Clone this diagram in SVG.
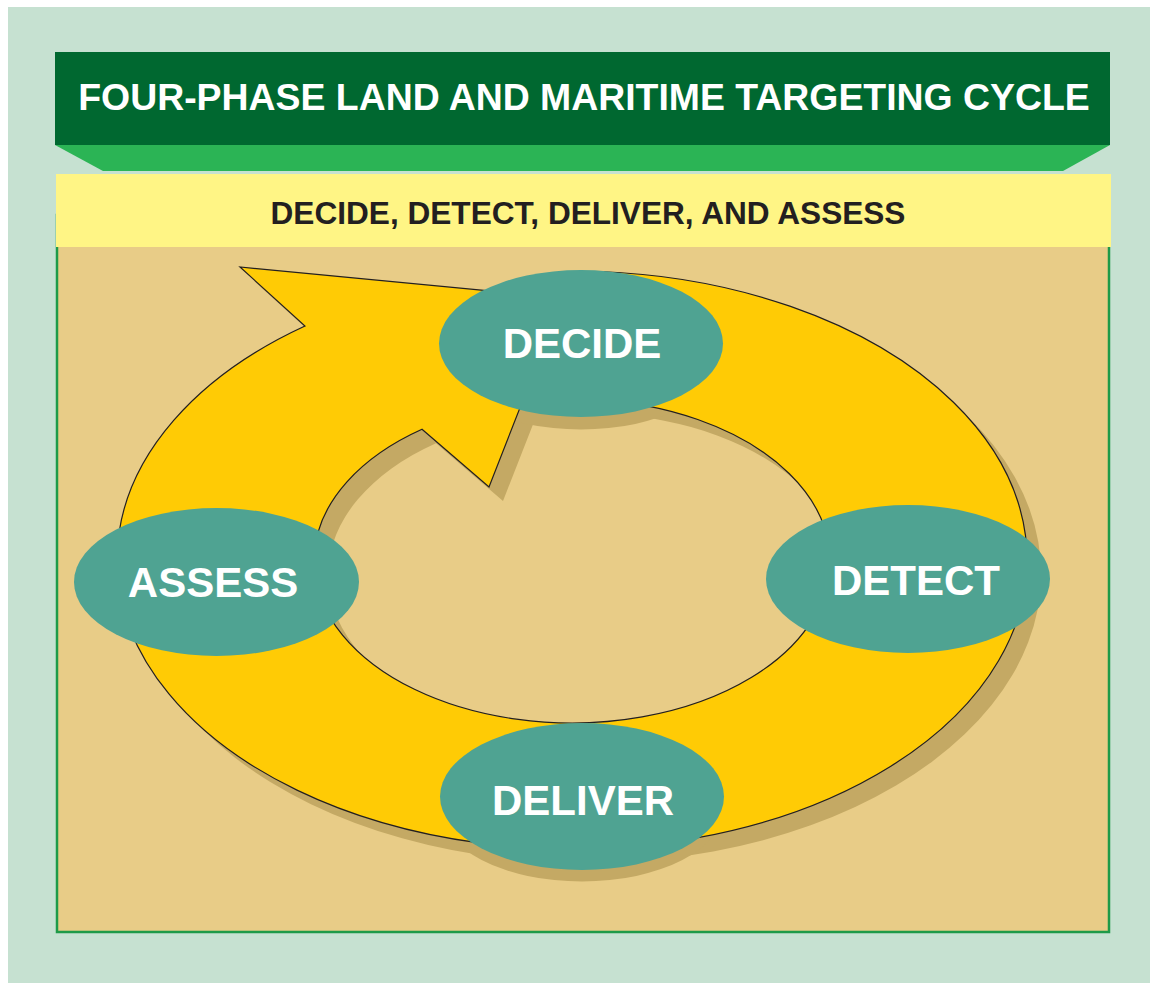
<svg xmlns="http://www.w3.org/2000/svg" width="1150" height="983" viewBox="0 0 1150 983">
<style>
.lbl{font-family:"Liberation Sans",Arial,sans-serif;font-weight:bold;fill:#ffffff;text-anchor:middle}
.node{fill:#4FA392}
.shadow{fill:#C4A964}
.ring{fill:#FFCB05;stroke:#231F20;stroke-width:1.2;stroke-linejoin:miter}
</style>
<rect x="0" y="0" width="1150" height="983" fill="#ffffff"/>
<rect x="8" y="7" width="1142" height="976" fill="#C6E1D1"/>
<g id="panel">
<rect x="57" y="215" width="1052" height="717" fill="#E8CC87" stroke="#1E9A48" stroke-width="2.5"/>
</g>
<g id="title">
<rect x="55" y="52" width="1055" height="93" fill="#006830"/>
<polygon points="55,145 1110,145 1063,171 103,171" fill="#2BB455"/>
<text class="lbl" x="584" y="110" font-size="37.4">FOUR-PHASE LAND AND MARITIME TARGETING CYCLE</text>
</g>
<g id="subtitle">
<rect x="56" y="174" width="1055" height="73" fill="#FFF585"/>
<text class="lbl" x="588" y="224" font-size="31.6" style="fill:#231F20">DECIDE, DETECT, DELIVER, AND ASSESS</text>
</g>
<g id="connectors">
<path class="shadow" transform="translate(14,14)" d="M305,326 A455,289 0 1,0 600,271.5 L590,399.4 A258,162 0 1,1 422,429.2 L489,487 L563,298 L240,267 Z"/>
<ellipse class="shadow" cx="581" cy="356" rx="142" ry="73.5"/>
<ellipse class="shadow" cx="582" cy="808" rx="142" ry="73.5"/>
<path id="cycle-arrow" class="ring" d="M305,326 A455,289 0 1,0 600,271.5 L590,399.4 A258,162 0 1,1 422,429.2 L489,487 L563,298 L240,267 Z"/>
</g>
<g id="node-decide">
<ellipse class="node" cx="581" cy="343.5" rx="142" ry="73.5"/>
<text class="lbl" x="582" y="358" font-size="42">DECIDE</text>
</g>
<g id="node-detect">
<ellipse class="node" cx="908" cy="579" rx="142" ry="74"/>
<text class="lbl" x="916" y="595" font-size="42">DETECT</text>
</g>
<g id="node-deliver">
<ellipse class="node" cx="582" cy="796.5" rx="142" ry="73.5"/>
<text class="lbl" x="583" y="815" font-size="42">DELIVER</text>
</g>
<g id="node-assess">
<ellipse class="node" cx="216.5" cy="582" rx="142.5" ry="74"/>
<text class="lbl" x="213" y="597" font-size="42">ASSESS</text>
</g>
</svg>
